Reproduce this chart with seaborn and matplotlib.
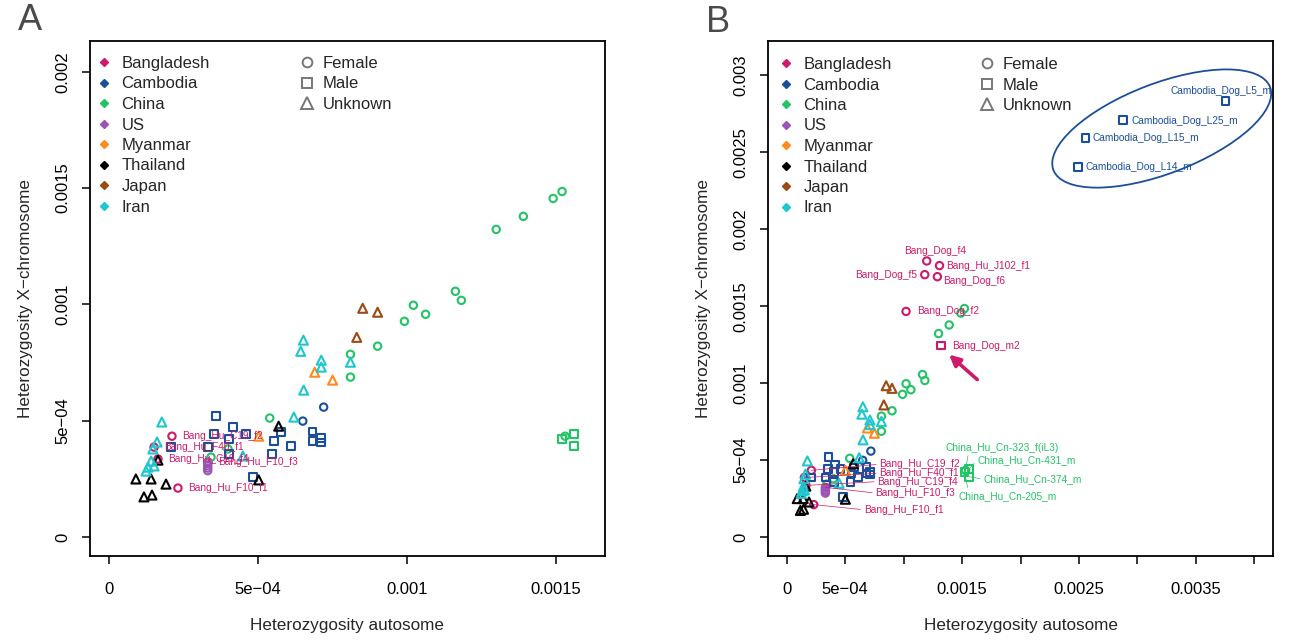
import numpy as np
import pandas as pd
import matplotlib
matplotlib.use("Agg")
import matplotlib.pyplot as plt
import seaborn as sns
from matplotlib.lines import Line2D
from matplotlib.patches import Ellipse
from matplotlib.transforms import ScaledTranslation

# ---------------- data ----------------
countries = ["Bangladesh", "Cambodia", "China", "US", "Myanmar", "Thailand", "Japan", "Iran"]
colors = ["#CF1A6A", "#1B4F9C", "#22C466", "#9B55B5", "#FF8A1E", "#000000", "#9A4A12", "#1FC6CF"]
sexes = ["Female", "Male", "Unknown"]

bang_names = ["Bang_Hu_C19_f2", "Bang_Hu_F40_f1", "Bang_Hu_C19_f4", "Bang_Hu_F10_f3", "Bang_Hu_F10_f1"]
bang_auto = [2.11e-4, 1.51e-4, 1.64e-4, 3.32e-4, 2.31e-4]
bang_xchr = [4.33e-4, 3.86e-4, 3.35e-4, 3.22e-4, 2.10e-4]
bang_sex = ["Female", "Female", "Female", "Female", "Female"]

camb_auto = [3.58e-4, 4.15e-4, 3.52e-4, 4.59e-4, 3.32e-4, 4.02e-4, 5.53e-4, 6.10e-4, 5.46e-4,
             4.82e-4, 5.76e-4, 2.08e-4, 4.02e-4, 6.82e-4, 6.82e-4, 7.12e-4, 7.12e-4, 6.50e-4, 7.20e-4]
camb_xchr = [5.19e-4, 4.72e-4, 4.42e-4, 4.42e-4, 3.86e-4, 4.21e-4, 4.12e-4, 3.91e-4, 3.56e-4,
             2.58e-4, 4.51e-4, 3.86e-4, 3.56e-4, 4.54e-4, 4.13e-4, 4.24e-4, 4.06e-4, 4.98e-4, 5.58e-4]
camb_sex = ["Male"] * 17 + ["Female", "Female"]

china_names = ["", "", "", "", "", "", "", "", "", "", "", "", "", "", "",
               "China_Hu_Cn-323_f(iL3)", "China_Hu_Cn-205_m", "China_Hu_Cn-431_m", "China_Hu_Cn-374_m"]
china_auto = [5.39e-4, 3.99e-4, 3.42e-4, 8.10e-4, 8.10e-4, 9.01e-4, 9.91e-4, 1.021e-3, 1.062e-3,
              1.162e-3, 1.182e-3, 1.299e-3, 1.390e-3, 1.490e-3, 1.520e-3, 1.530e-3,
              1.520e-3, 1.561e-3, 1.561e-3]
china_xchr = [5.11e-4, 3.78e-4, 3.43e-4, 7.85e-4, 6.87e-4, 8.20e-4, 9.27e-4, 9.96e-4, 9.57e-4,
              1.056e-3, 1.017e-3, 1.322e-3, 1.378e-3, 1.455e-3, 1.485e-3, 4.33e-4,
              4.21e-4, 4.42e-4, 3.91e-4]
china_sex = ["Female"] * 16 + ["Male", "Male", "Male"]

us_auto = [3.31e-4, 3.31e-4, 3.31e-4, 3.31e-4]
us_xchr = [3.18e-4, 3.06e-4, 2.96e-4, 2.85e-4]
us_sex = ["Female"] * 4

myan_auto = [6.90e-4, 7.50e-4, 5.02e-4]
myan_xchr = [7.08e-4, 6.74e-4, 4.33e-4]
myan_sex = ["Unknown"] * 3

thai_auto = [5.69e-4, 5.02e-4, 0.90e-4, 1.41e-4, 1.91e-4, 1.17e-4, 1.44e-4, 1.64e-4]
thai_xchr = [4.76e-4, 2.45e-4, 2.49e-4, 2.49e-4, 2.27e-4, 1.72e-4, 1.80e-4, 3.30e-4]
thai_sex = ["Unknown"] * 8

japan_auto = [8.51e-4, 9.01e-4, 8.31e-4]
japan_xchr = [9.83e-4, 9.66e-4, 8.58e-4]
japan_sex = ["Unknown"] * 3

iran_auto = [1.77e-4, 1.61e-4, 1.47e-4, 1.41e-4, 1.31e-4, 1.24e-4, 1.51e-4, 4.49e-4, 6.20e-4,
             6.53e-4, 7.12e-4, 7.12e-4, 8.10e-4, 6.52e-4, 6.43e-4]
iran_xchr = [4.94e-4, 4.08e-4, 3.78e-4, 3.26e-4, 3.00e-4, 2.83e-4, 3.05e-4, 3.48e-4, 5.15e-4,
             6.31e-4, 7.60e-4, 7.30e-4, 7.51e-4, 8.46e-4, 7.98e-4]
iran_sex = ["Unknown"] * 15

# panel B only
bdog_names = ["Bang_Dog_f4", "Bang_Hu_J102_f1", "Bang_Dog_f5", "Bang_Dog_f6", "Bang_Dog_f2", "Bang_Dog_m2"]
bdog_auto = [1.198e-3, 1.307e-3, 1.181e-3, 1.289e-3, 1.021e-3, 1.321e-3]
bdog_xchr = [1.794e-3, 1.764e-3, 1.705e-3, 1.692e-3, 1.466e-3, 1.244e-3]
bdog_sex = ["Female", "Female", "Female", "Female", "Female", "Male"]

cdog_names = ["Cambodia_Dog_L5_m", "Cambodia_Dog_L25_m", "Cambodia_Dog_L15_m", "Cambodia_Dog_L14_m"]
cdog_auto = [3.754e-3, 2.879e-3, 2.556e-3, 2.493e-3]
cdog_xchr = [2.832e-3, 2.712e-3, 2.593e-3, 2.405e-3]
cdog_sex = ["Male"] * 4

xticksA = [0, 5e-4, 1e-3, 1.5e-3]
xlabA = ["0", "5e\u221204", "0.001", "0.0015"]
yticksA = [0, 5e-4, 1e-3, 1.5e-3, 2e-3]
ylabA = ["0", "5e\u221204", "0.001", "0.0015", "0.002"]
xticksB = [0, 5e-4, 1e-3, 1.5e-3, 2e-3, 2.5e-3, 3e-3, 3.5e-3, 4e-3]
xlabB = ["0", "5e\u221204", "", "0.0015", "", "0.0025", "", "0.0035", ""]
yticksB = [0, 5e-4, 1e-3, 1.5e-3, 2e-3, 2.5e-3, 3e-3]
ylabB = ["0", "5e\u221204", "0.001", "0.0015", "0.002", "0.0025", "0.003"]

# ---------------- build tables ----------------
def frame(country, auto, xchr, sex, names=None):
    if names is None:
        names = [""] * len(auto)
    return pd.DataFrame({"country": country, "auto": auto, "xchr": xchr, "sex": sex, "name": names})

base = pd.concat([
    frame("Bangladesh", bang_auto, bang_xchr, bang_sex, bang_names),
    frame("Cambodia", camb_auto, camb_xchr, camb_sex),
    frame("China", china_auto, china_xchr, china_sex, china_names),
    frame("US", us_auto, us_xchr, us_sex),
    frame("Myanmar", myan_auto, myan_xchr, myan_sex),
    frame("Thailand", thai_auto, thai_xchr, thai_sex),
    frame("Japan", japan_auto, japan_xchr, japan_sex),
    frame("Iran", iran_auto, iran_xchr, iran_sex),
], ignore_index=True)
extra = pd.concat([
    frame("Bangladesh", bdog_auto, bdog_xchr, bdog_sex, bdog_names),
    frame("Cambodia", cdog_auto, cdog_xchr, cdog_sex, cdog_names),
], ignore_index=True)
dfA = base
dfB = pd.concat([base, extra], ignore_index=True)

palette = dict(zip(countries, colors))
markers = {"Female": "o", "Male": "s", "Unknown": "^"}
msize = {"Female": 28, "Male": 30, "Unknown": 42}

# ---------------- style ----------------
sns.set_style("ticks")
plt.rcParams["font.family"] = ["Liberation Sans", "DejaVu Sans"]
plt.rcParams["axes.linewidth"] = 1.3

fig = plt.figure(figsize=(12.9, 6.43), dpi=100)
W, H = 1290, 643
axA = fig.add_axes([90 / W, 1 - 556 / H, 515 / W, 515 / H])
axB = fig.add_axes([768 / W, 1 - 556 / H, 505 / W, 515 / H])
LFS = 7.3


def draw(ax, df):
    for sx in sexes:
        sub = df[df["sex"] == sx]
        sns.scatterplot(data=sub, x="auto", y="xchr", hue="country", palette=palette,
                        marker=markers[sx], s=msize[sx], linewidth=1.5, legend=False, ax=ax)
        coll = ax.collections[-1]
        fc = coll.get_facecolors()
        coll.set_edgecolors(fc)
        coll.set_facecolors("none")


def style(ax, xt, xl, yt, yl, xlim, ylim):
    ax.set_xlim(*xlim)
    ax.set_ylim(*ylim)
    ax.set_xticks(xt)
    ax.set_xticklabels(xl)
    ax.set_yticks(yt)
    ax.set_yticklabels(yl)
    ax.tick_params(direction="out", length=6, width=1.1, labelsize=12, colors="black")
    ax.tick_params(axis="x", pad=13)
    ax.tick_params(axis="y", pad=8)
    for t in ax.get_yticklabels():
        t.set_rotation(90)
        t.set_va("center")
    for s in ax.spines.values():
        s.set_visible(True)
        s.set_color("black")
    ax.set_xlabel("Heterozygosity autosome", fontsize=12.3, labelpad=15)
    ax.set_ylabel("Heterozygosity X\u2212chromosome", fontsize=12.3, labelpad=16)


def legends(ax, x0, x1, ytop):
    h1 = [Line2D([], [], marker="D", color=c, linestyle="none", markersize=4.5) for c in colors]
    leg1 = ax.legend(h1, countries, loc="upper left", bbox_to_anchor=(x0 / W, 1 - ytop / H),
                     bbox_transform=fig.transFigure, frameon=False, fontsize=12,
                     handlelength=0.7, handletextpad=0.7, labelspacing=0.33,
                     borderpad=0, borderaxespad=0)
    ax.add_artist(leg1)
    h2 = [Line2D([], [], marker=m, color="#777777", markerfacecolor="none", markeredgewidth=1.4,
                 linestyle="none", markersize=8 if m == "^" else 7) for m in ["o", "s", "^"]]
    ax.legend(h2, sexes, loc="upper left", bbox_to_anchor=(x1 / W, 1 - ytop / H),
              bbox_transform=fig.transFigure, frameon=False, fontsize=12,
              handlelength=0.7, handletextpad=0.6, labelspacing=0.33,
              borderpad=0, borderaxespad=0)


def label(ax, row, dx, dy, ha="left", color=None, line=False, relpos=(0, 0.5)):
    c = color or palette[row["country"]]
    kw = dict(xy=(row["auto"], row["xchr"]), xytext=(dx, dy), textcoords="offset points",
              ha=ha, va="center", fontsize=LFS, color=c)
    if line:
        kw["arrowprops"] = dict(arrowstyle="-", color=c, lw=0.5, shrinkA=0, shrinkB=0, relpos=relpos)
    ax.annotate(row["name"], **kw)


# ---------------- panel A ----------------
draw(axA, dfA)
style(axA, xticksA, xlabA, yticksA, ylabA, (-6.4e-5, 1.664e-3), (-8.2e-5, 2.132e-3))
legends(axA, 98, 301, 56)
for _, r in dfA[dfA["name"].str.startswith("Bang_Hu")].iterrows():
    label(axA, r, 7.5, 0)

# ---------------- panel B ----------------
draw(axB, dfB)
style(axB, xticksB, xlabB, yticksB, ylabB, (-1.6e-4, 4.16e-3), (-1.24e-4, 3.224e-3))
legends(axB, 780, 981, 57)

rowsB = dfB.set_index("name")
bang_off = {"Bang_Hu_C19_f2": (49, 4.4), "Bang_Hu_F40_f1": (54, 3.2), "Bang_Hu_C19_f4": (51.5, 2.7),
            "Bang_Hu_F10_f3": (36, -4.1), "Bang_Hu_F10_f1": (36, -3.7)}
for n, (dx, dy) in bang_off.items():
    r = rowsB.loc[n].copy(); r["name"] = n
    label(axB, r, dx, dy, line=True)

china_off = {"China_Hu_Cn-323_f(iL3)": (-14.2, 16.4, (0.2, 0.0)), "China_Hu_Cn-431_m": (6, 6.6, (0, 0.5)),
             "China_Hu_Cn-374_m": (10, -1.7, (0, 0.5)), "China_Hu_Cn-205_m": (-4.2, -17, (0.1, 1.0))}
for n, (dx, dy, rp) in china_off.items():
    r = rowsB.loc[n].copy(); r["name"] = n
    label(axB, r, dx, dy, line=True, relpos=rp)

dog_off = {"Bang_Dog_f4": (5.8, 7.4, "center"), "Bang_Hu_J102_f1": (5, 0, "left"),
           "Bang_Dog_f5": (-5.3, 0, "right"), "Bang_Dog_f6": (4, -2.9, "left"),
           "Bang_Dog_f2": (7.7, 0, "left"), "Bang_Dog_m2": (7.7, 0, "left"),
           "Cambodia_Dog_L5_m": (-3.4, 7.7, "center"), "Cambodia_Dog_L25_m": (5.8, -0.7, "left"),
           "Cambodia_Dog_L15_m": (4.8, 0, "left"), "Cambodia_Dog_L14_m": (5.3, 0, "left")}
for n, (dx, dy, ha) in dog_off.items():
    r = rowsB.loc[n].copy(); r["name"] = n
    label(axB, r, dx, dy, ha=ha)

# arrow pointing at Bang_Dog_m2
axB.annotate("", xy=(1.389e-3, 1.185e-3), xytext=(1.63e-3, 1.023e-3),
             arrowprops=dict(arrowstyle="-|>", color=palette["Bangladesh"], lw=2.6, mutation_scale=16,
                             shrinkA=0, shrinkB=0))

# ellipse around the Cambodia dogs
ell = Ellipse((0, 0), width=2.32, height=0.90, angle=21, fill=False,
              edgecolor=palette["Cambodia"], lw=1.3,
              transform=fig.dpi_scale_trans + ScaledTranslation(3.208e-3, 2.655e-3, axB.transData))
axB.add_patch(ell)

# panel letters
fig.text(30 / W, 1 - 20 / H, "A", fontsize=26, color="#4a4a4a", ha="center", va="center")
fig.text(718 / W, 1 - 22 / H, "B", fontsize=26, color="#4a4a4a", ha="center", va="center")

fig.savefig("out.png", dpi=100)
